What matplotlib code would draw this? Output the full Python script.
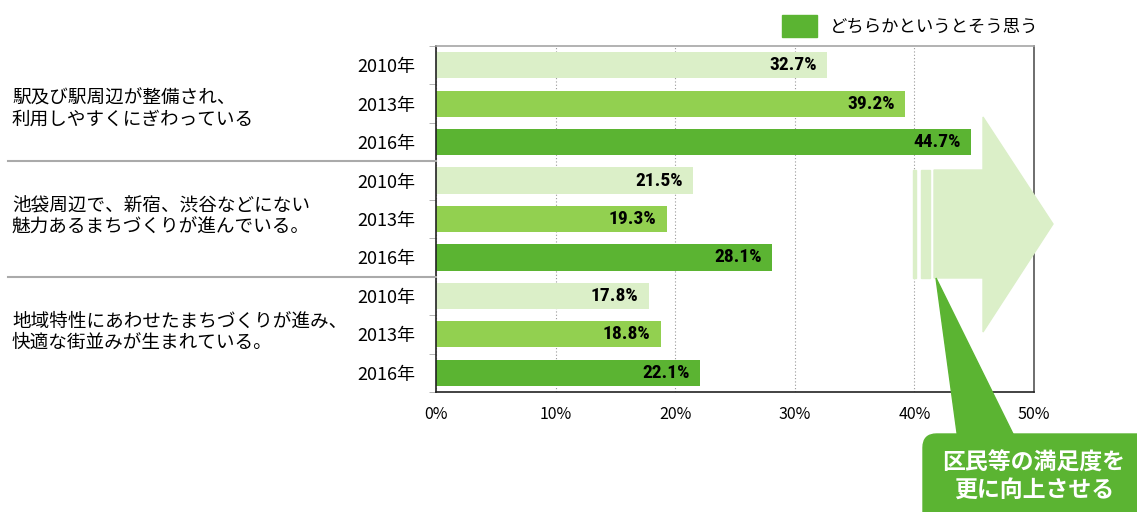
import matplotlib
matplotlib.use("Agg")
import matplotlib.pyplot as plt
from matplotlib import font_manager
from matplotlib.patches import Rectangle, Polygon, FancyBboxPatch
from matplotlib.lines import Line2D
from matplotlib.transforms import blended_transform_factory
import numpy as np

plt.rcParams['font.family'] = ['Noto Sans CJK JP', 'DejaVu Sans']

categories = ["駅及び駅周辺が整備され、\n利用しやすくにぎわっている",
              "池袋周辺で、新宿、渋谷などにない\n魅力あるまちづくりが進んでいる。",
              "地域特性にあわせたまちづくりが進み、\n快適な街並みが生まれている。"]
years = ["2010年", "2013年", "2016年"]
values = [[32.7, 39.2, 44.7],
          [21.5, 19.3, 28.1],
          [17.8, 18.8, 22.1]]
legend_label = "どちらかというとそう思う"
xticks = [0, 10, 20, 30, 40, 50]
xticklabels = ["0%", "10%", "20%", "30%", "40%", "50%"]
callout_text = "区民等の満足度を\n更に向上させる"

available = {f.name for f in font_manager.fontManager.ttflist}
narrow = 'Liberation Sans'
for cand in ['Liberation Sans Narrow', 'DejaVu Sans Condensed', 'Roboto Condensed']:
    if cand in available:
        narrow = cand
        break

W, H = 1137, 512
fig = plt.figure(figsize=(W / 100, H / 100), dpi=100)

def fx(px):
    return px / W

def fy(py):
    return 1 - py / H

ax = fig.add_axes([fx(436), fy(392), fx(1034) - fx(436), fy(46) - fy(392)])

year_colors = ["#dbefc8", "#92d050", "#5bb432"]
pos = []
vals = []
cols = []
ylabels = []
for g, row in enumerate(values):
    for k, v in enumerate(row):
        pos.append(g * 3 + k)
        vals.append(v)
        cols.append(year_colors[k])
        ylabels.append(years[k])

ax.barh(pos, vals, height=0.68, color=cols, zorder=2)
for p, v in zip(pos, vals):
    t = ax.text(v - 0.85, p, f"{v}%", ha='right', va='center', fontsize=14,
                fontweight='bold', family=[narrow, 'DejaVu Sans'],
                color='black', zorder=3)
    if narrow == 'Liberation Sans':
        t.set_fontstretch('condensed')

ax.set_xlim(0, 50)
ax.set_ylim(8.5, -0.5)
ax.set_xticks(xticks)
ax.set_xticklabels(xticklabels, fontsize=11.5)
ax.tick_params(axis='x', length=0, pad=10)
ax.set_yticks(pos)
ax.set_yticklabels(ylabels, fontsize=13)
ax.tick_params(axis='y', which='major', length=0, pad=15)
ax.set_yticks(np.arange(-0.5, 9.0, 1.0), minor=True)
ax.tick_params(axis='y', which='minor', length=5, color='#aaaaaa', direction='out')
ax.grid(axis='x', linestyle=(0, (1, 2)), color='#999999', linewidth=0.8, zorder=1)
ax.set_axisbelow(True)
ax.spines['top'].set_color('#a6a6a6')
ax.spines['right'].set_color('#555555')
ax.spines['left'].set_color('#222222')
ax.spines['bottom'].set_color('#222222')
for s in ax.spines.values():
    s.set_linewidth(1.2)

# group separators and category labels
bt = blended_transform_factory(fig.transFigure, ax.transData)
for yb in [2.5, 5.5]:
    fig.add_artist(Line2D([fx(8), fx(436)], [yb, yb], transform=bt,
                          color='#aaaaaa', linewidth=1.5))
for g, cat in enumerate(categories):
    fig.text(fx(12), g * 3 + 1 + (0.15 if g == 0 else -0.05), cat, transform=bt,
             fontsize=13.4, ha='left', va='center', linespacing=1.25)

# legend
fig.add_artist(Rectangle((fx(782), fy(37)), fx(817) - fx(782), fy(15) - fy(37),
                         transform=fig.transFigure, color=year_colors[2]))
fig.text(fx(830), fy(27), legend_label, fontsize=12.5, ha='left', va='center')

# big arrow
light = "#dbefc8"
arrow_px = [(934, 170), (983, 170), (983, 117), (1053, 224), (983, 332), (983, 278), (934, 278)]
fig.add_artist(Polygon([(fx(x), fy(y)) for x, y in arrow_px], closed=True,
                       transform=fig.transFigure, color=light, zorder=5))
for x0, x1 in [(913, 916), (921, 930)]:
    fig.add_artist(Rectangle((fx(x0), fy(278)), fx(x1) - fx(x0), fy(170) - fy(278),
                             transform=fig.transFigure, color=light, zorder=5))

# callout
dark = "#5bb432"
tri_px = [(936, 278), (958, 440), (1016, 440)]
fig.add_artist(Polygon([(fx(x), fy(y)) for x, y in tri_px], closed=True,
                       transform=fig.transFigure, color=dark, zorder=6))
box = FancyBboxPatch((fx(923), fy(540)), fx(1170) - fx(923), fy(434) - fy(540),
                     boxstyle="round,pad=0,rounding_size=0.012",
                     transform=fig.transFigure, color=dark, zorder=6,
                     mutation_aspect=W / H)
fig.add_artist(box)
fig.text(fx(1034), fy(477), callout_text, fontsize=16.5, fontweight='bold',
         color='white', ha='center', va='center', linespacing=1.3, zorder=7)

fig.savefig("out.png", dpi=100)
